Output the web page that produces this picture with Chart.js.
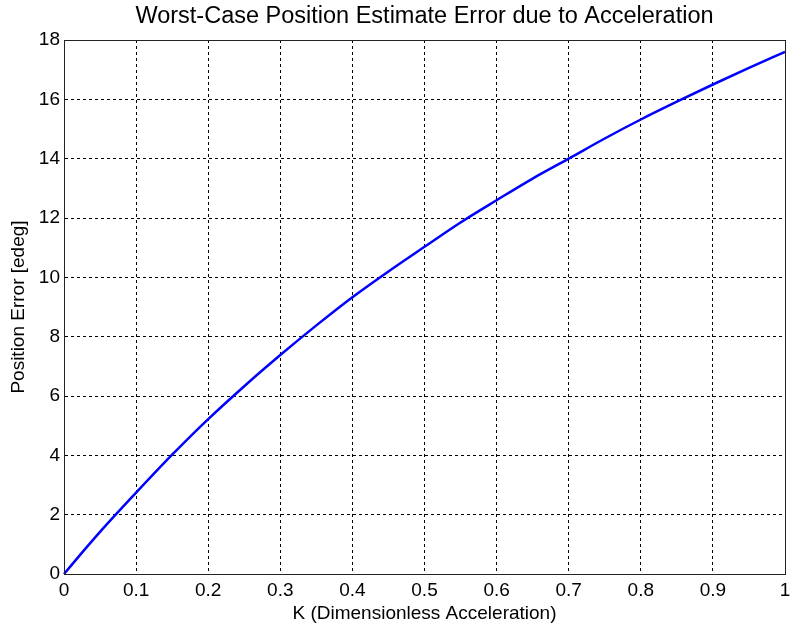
<!DOCTYPE html>
<html>
<head>
<meta charset="utf-8">
<script src="https://cdn.jsdelivr.net/npm/chart.js@4"></script>
<style>
  html, body { margin: 0; padding: 0; background: #fff; }
</style>
</head>
<body>
<canvas id="chart" width="790" height="630"></canvas>
<script>
// values
const kValues = [0, 0.025, 0.05, 0.1, 0.15, 0.2, 0.25, 0.3, 0.35, 0.4, 0.45, 0.5,
                 0.55, 0.6, 0.65, 0.7, 0.75, 0.8, 0.85, 0.9, 0.95, 1.0];
const posError = [0, 0.72, 1.42, 2.74, 4.02, 5.22, 6.33, 7.38, 8.38, 9.33, 10.2, 11.03,
                  11.85, 12.6, 13.33, 14.0, 14.68, 15.32, 15.92, 16.5, 17.06, 17.6];
const xTicks = [0, 0.1, 0.2, 0.3, 0.4, 0.5, 0.6, 0.7, 0.8, 0.9, 1];
const yTicks = [0, 2, 4, 6, 8, 10, 12, 14, 16, 18];

const FONT = "'Liberation Sans', Arial, sans-serif";
Chart.defaults.font.family = FONT;
Chart.defaults.color = '#000';

// solid box round the plot area, like matlab's axes
const boxPlugin = {
    id: 'box',
    afterDatasetsDraw(chart) {
        const {ctx, chartArea: a} = chart;
        ctx.save();
        ctx.strokeStyle = '#222';
        ctx.lineWidth = 1;
        ctx.strokeRect(Math.round(a.left) + 0.5, Math.round(a.top) + 0.5,
                       Math.round(a.right - a.left), Math.round(a.bottom - a.top));
        ctx.restore();
    }
};

new Chart(document.getElementById('chart'), {
    type: 'line',
    data: {
        datasets: [{
            data: kValues.map((k, i) => ({x: k, y: posError[i]})),
            borderColor: '#0000ff',
            borderWidth: 2.5,
            pointRadius: 0,
            cubicInterpolationMode: 'monotone',
            clip: false
        }]
    },
    options: {
        responsive: false,
        animation: false,
        layout: { padding: { left: 0, right: 5, top: 0, bottom: 0 } },
        plugins: {
            legend: { display: false },
            tooltip: { enabled: false },
            title: {
                display: true,
                text: 'Worst-Case Position Estimate Error due to Acceleration',
                fullSize: false,
                color: '#000',
                font: { size: 23.5, weight: 'normal', family: FONT },
                padding: { top: 2, bottom: 9.8 }
            }
        },
        scales: {
            x: {
                type: 'linear',
                min: 0,
                max: 1,
                afterBuildTicks: s => { s.ticks = xTicks.map(v => ({value: v})); },
                afterFit: s => { s.height = 56; s.paddingRight = 0; },
                ticks: {
                    font: { size: 19 },
                    padding: 5,
                    maxRotation: 0,
                    autoSkip: false,
                    callback: v => String(v)
                },
                grid: { color: '#000', drawTicks: false, lineWidth: 1 },
                border: { color: '#222', dash: [3, 3] },
                title: {
                    display: true,
                    text: 'K (Dimensionless Acceleration)',
                    font: { size: 19 },
                    padding: { top: 0, bottom: 5 }
                }
            },
            y: {
                min: 0,
                max: 18,
                afterBuildTicks: s => { s.ticks = yTicks.map(v => ({value: v})); },
                afterFit: s => { s.width = 64; },
                ticks: { font: { size: 19 }, padding: 4, autoSkip: false },
                grid: { color: '#000', drawTicks: false, lineWidth: 1 },
                border: { color: '#222', dash: [3, 3] },
                title: {
                    display: true,
                    text: 'Position Error [edeg]',
                    font: { size: 19 },
                    padding: { top: 7, bottom: 0 }
                }
            }
        }
    },
    plugins: [boxPlugin]
});
</script>
</body>
</html>
